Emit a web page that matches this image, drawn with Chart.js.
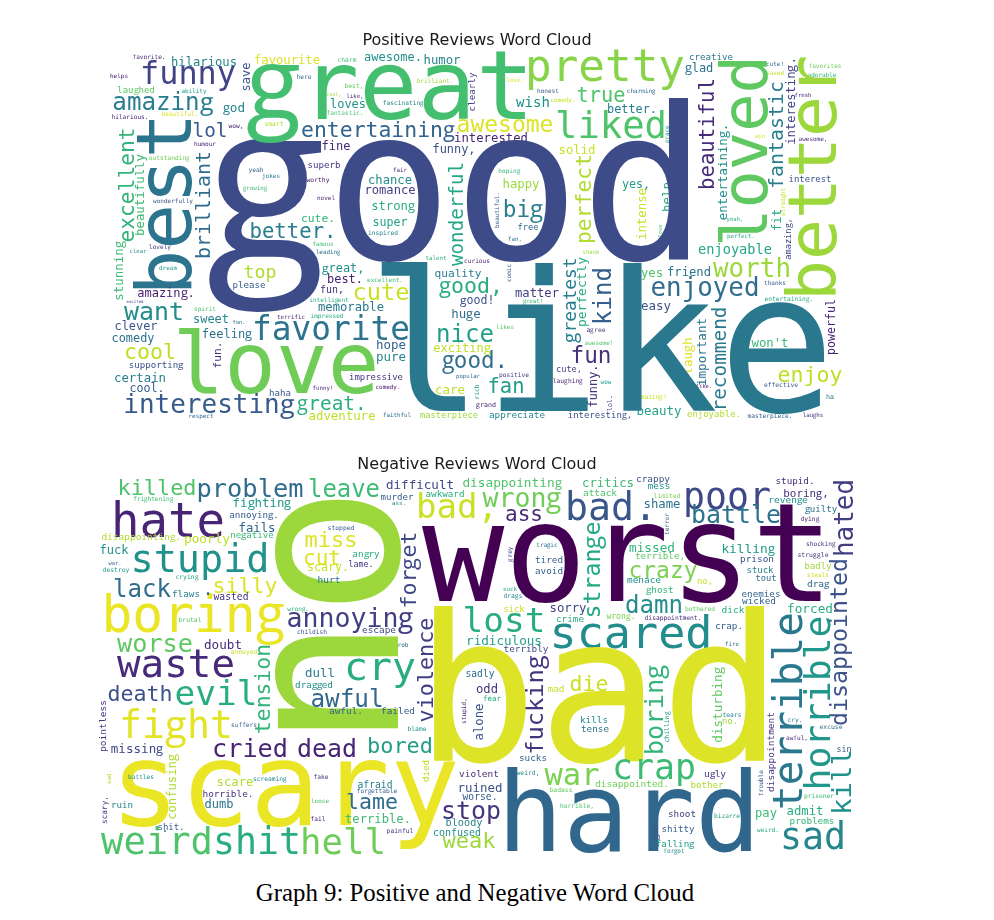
<!DOCTYPE html>
<html><head><meta charset="utf-8">
<style>
@font-face{font-family:"CloudG";src:local("Open Sans Regular"),local("Open Sans"),local("OpenSans-Regular");unicode-range:U+67;size-adjust:104%}
html,body{margin:0;padding:0;background:#fff;width:994px;height:920px;overflow:hidden}
canvas{position:absolute;left:0;background:#fff}
#c1{top:0}
#c2{top:440px}
#cap{position:absolute;left:0;width:950px;top:879px;text-align:center;font:24.8px "Liberation Serif",serif;color:#000}
</style>
<script src="https://cdn.jsdelivr.net/npm/chart.js@4"></script>
</head><body>
<canvas id="c1" width="952" height="430" style="width:952px;height:430px"></canvas>
<canvas id="c2" width="950" height="430" style="width:950px;height:430px"></canvas>
<div id="cap">Graph 9: Positive and Negative Word Cloud</div>
<script>
const posTitle = "Positive Reviews Word Cloud";
const negTitle = "Negative Reviews Word Cloud";
const posWords = [
"favorite.","hilarious","favourite","charm","awesome.","humor","funny","helps",
"save","hero","brilliant.","clearly","laughed","ability","best,","cool,",
"like,","amazing","god","loves","fascinating","hilarious.","beautiful,","fantastic.",
"lol","smart","wow,","entertaining","best","excellent","beautifully","brilliant",
"outstanding","humour","fine","funny,","interested","awesome","superb","yeah",
"fair","jokes","worthy","chance","growing","romance","wonderfully","novel",
"strong","cute.","super","wonderful","creative","cute!","favorites","adorable",
"saved","glad","love,","honest","charming","comedy.","fresh","true",
"wish","better.","liked","solid","grace","win","awesome,","hoping",
"happy","big","beautiful.","perfect","intense","yes,","help","beautiful",
"entertaining.","loved","fantastic","interesting.","better","interest","straight","yeah,",
"fit","amazing,","better.","top","inspired","famous","leading","lovely",
"clear","dream","talent","curious","great,","quality","best.","excellent.",
"fun,","please","amazing.","cute","good,","stunning","excited","want",
"intelligent","memorable","spirit","terrific","impressed","sweet","clever","fan.",
"favorite","feeling","comedy","good!","huge","nice","exciting","fun.",
"hope","pure","cool","love","good.","supporting","certain","impressive",
"popular","cool.","funny!","comedy.","care","haha","interesting","great.",
"rich","adventure","respect","faithful","masterpiece","grand","free","fan,",
"love","perfect.","thank","enjoyable","worth","yes","friend","thanks",
"comic","greatest","perfectly","kind","enjoyed","matter","easy","entertaining.",
"great!","powerful","recommend","likes","agree","fun","important","laugh",
"awesome!","won't","funny.","cute,","positive","enjoy","laughing","wow",
"fan","effective","like.","amazing!","ha","lol.","beauty","appreciate",
"interesting,","enjoyable.","masterpiece.","laughs","good","like","great","pretty",
"."];
const posX = [
149,204,287,347,393,442,188,119,
250,304,435,475,136,194,354,334,
355,163,234,348,403,130,180,345,
210,274,236,378,191,134,144,210,
169,205,336,454,491,505,324,256,
400,271,318,390,255,390,173,326,
393,318,390,463,711,775,825,822,
775,699,515,548,641,563,803,601,
533,632,611,577,669,760,813,509,
521,523,499,591,646,636,671,714,
727,767,783,795,836,810,785,735,
781,791,293,260,383,323,328,160,
138,168,436,477,343,458,345,385,
332,249,166,381,471,123,135,154,
329,351,205,291,327,211,136,239,
331,227,133,477,466,465,462,221,
391,391,150,276,475,156,140,376,
468,147,323,388,450,280,209,332,
479,342,201,397,449,486,528,515,
662,741,591,735,752,652,689,775,
511,576,586,611,705,537,656,789,
533,835,726,505,596,591,706,692,
599,770,597,569,514,810,568,606,
506,781,704,652,830,612,659,517,
600,714,770,813,457,601,390,605,
178];
const posY = [
59,66,64,62,61,64,84,78,
77,79,83,92,93,93,88,96,
98,110,112,108,105,119,116,115,
137,126,128,137,204,185,195,205,
160,146,150,153,142,132,168,172,
172,178,182,184,190,194,203,200,
210,222,226,214,60,66,68,77,
75,72,82,93,93,102,97,102,
107,113,138,154,134,138,141,173,
188,217,210,199,214,188,197,134,
172,151,135,101,178,182,202,221,
220,239,238,278,235,246,254,249,
253,270,260,263,272,277,283,282,
293,288,297,300,293,271,303,320,
302,311,311,319,318,323,330,324,
340,338,342,304,318,342,352,355,
349,361,359,393,368,368,382,380,
378,392,390,389,394,396,413,410,
392,420,418,417,418,407,230,241,
231,238,254,254,277,277,276,285,
273,300,292,296,296,297,310,301,
303,327,359,329,332,363,352,356,
345,347,386,372,377,382,383,384,
393,387,388,399,399,403,415,418,
418,417,418,417,259,411,119,81,
93];
const posLen = [
33,66,66,19,58,37,96,18,
29,15,37,39,38,25,19,15,
17,102,23,36,41,37,37,37,
35,19,15,155,183,115,82,108,
41,22,29,43,74,97,33,15,
14,18,23,44,25,51,40,18,
44,34,35,104,44,18,33,29,
18,29,17,22,29,25,17,49,
34,50,112,37,18,10,29,22,
37,41,36,90,52,28,30,112,
97,192,108,88,246,43,29,17,
22,42,87,33,30,21,25,22,
17,18,21,26,43,47,36,36,
24,33,58,57,65,60,17,60,
40,66,22,28,33,36,43,13,
158,51,43,35,30,58,58,27,
30,30,52,207,68,55,52,54,
24,35,21,25,30,22,172,70,
15,67,25,28,58,20,21,14,
13,28,17,74,78,22,44,22,
18,86,70,58,109,44,30,49,
21,56,105,18,19,41,68,38,
29,37,43,26,30,65,30,11,
37,34,16,30,8,16,45,56,
65,54,45,21,510,469,292,160,
7];
const posUp = [
0,0,0,0,0,0,0,0,
1,0,0,1,0,0,0,0,
0,0,0,0,0,0,0,0,
0,0,0,0,1,1,1,1,
0,0,0,0,0,0,0,0,
0,0,0,0,0,0,0,0,
0,0,0,1,0,0,0,0,
0,0,0,0,0,0,0,0,
0,0,0,0,1,0,0,0,
0,0,1,1,1,0,1,1,
1,1,1,1,1,0,1,0,
1,1,0,0,0,0,0,0,
0,0,0,0,0,0,0,0,
0,0,0,0,0,1,0,0,
0,0,0,0,0,0,0,0,
0,0,0,0,0,0,0,1,
0,0,0,0,0,0,0,0,
0,0,0,0,0,0,0,0,
1,0,0,0,0,0,0,0,
1,0,0,0,0,0,0,0,
1,1,1,1,0,0,0,0,
0,1,1,0,0,0,1,1,
0,0,1,0,0,0,0,0,
0,0,0,0,0,1,0,0,
0,0,0,0,0,0,0,0,
0];
const posShade = [
10,45,95,70,50,45,20,5,
25,35,85,20,75,55,75,85,
10,42,45,50,45,10,95,70,
28,88,8,32,38,65,68,35,
78,10,12,25,10,95,15,30,
15,40,5,48,68,18,25,8,
62,65,58,60,40,35,78,65,
90,38,95,25,35,92,10,72,
50,42,72,92,55,95,12,65,
85,42,30,88,92,55,58,12,
48,75,42,20,85,25,90,62,
60,20,42,88,45,70,38,18,
50,55,65,8,50,42,10,68,
15,28,8,92,62,68,22,48,
62,40,72,8,62,45,25,35,
38,38,38,25,35,55,90,15,
30,45,90,78,35,25,42,15,
35,28,12,5,90,28,28,62,
55,90,35,38,85,10,35,40,
70,60,85,60,85,72,38,25,
25,42,62,30,35,18,25,60,
68,10,40,75,15,14,38,95,
72,68,15,18,18,90,8,55,
55,28,8,92,40,20,58,45,
25,88,32,15,23,40,70,82,
35];

const negWords = [
"killed","problem","leave","difficult","disappointing","frightening","murder","awkward",
"ass.","hate","fighting","bad,","annoying.","no","fails","stopped",
"negative","disappointing.","poorly","miss","fuck","stupid","cut","angry",
"lame.","scary.","war.","destroy","crying","forget","silly","lack",
"hurt","flaws","wasted","boring","annoying","wrong.","brutal","childish",
"escape","rob","worse","doubt","annoyed","waste","tension","violence",
"lost","ridiculous","wrong","critics","crappy","mess","poor","stupid.",
"hated","attack","limited","boring,","revenge","bad.","shame","guilty",
"ass","battle","dying","terror","worst","strange","tragic","grey",
"missed","killing","shocking","terrible,","struggle","tired","prison","crazy",
"avoid","stuck","badly","steals","tout","no,","menace","drag",
"suck","drags","ghost","enemies","wicked","disappointed","damn","sorry",
"sick","bothered","dick","forced","crime","wrong.","disappointment.","crap.",
"scared","fire","terribly","terrible","horrible","kill","sin","die",
"mad","fucking","boring","disturbing","chilling","kills","tense","no.",
"tears","cry.","excuse","awful,","disappointment","trouble","bad","sucks",
"sadly","odd","fear","alone","stupid,","dull","cry","dragged",
"awful","death","evil","awful.","failed","suffers","blame","fight",
"pointless","cried","dead","bored","missing","confusing","died","scary",
"sad.","battles","scare","screaming","fake","afraid","forgettable","horrible.",
"lame","dumb","ruin","scary,","loose","fail","terrible.","shit.",
"painful","stop","violent","ruined","worse.","bloody","confused","weak",
"weird","shit","hell","hard","war","crap","weird,","disappointed.",
"ugly","bother","badass","prisoner","horrible,","pay","admit","problems",
"shoot","bizarre","shitty","gun","weird.","falling","forgot","sad",
".","."];
const negX = [
157,250,344,420,512,153,397,445,
399,168,262,457,254,398,257,341,
252,141,207,331,114,200,322,366,
361,328,115,116,187,416,245,142,
329,186,231,193,350,298,190,312,
379,403,155,223,244,176,270,433,
504,504,522,608,653,659,727,795,
853,600,667,806,788,611,662,821,
524,736,810,669,628,600,547,512,
652,748,821,660,813,549,757,663,
549,760,818,818,766,705,644,818,
510,513,660,761,759,847,654,568,
514,700,733,810,570,621,673,729,
631,732,526,802,830,851,844,589,
556,543,663,722,669,594,595,730,
732,795,831,797,774,763,599,533,
480,487,492,483,466,320,380,314,
347,140,216,346,398,244,417,176,
106,250,327,400,137,176,429,285,
111,141,235,270,321,375,377,228,
372,219,122,107,320,318,378,171,
400,471,479,480,480,464,457,469,
157,257,343,629,572,654,528,632,
715,707,561,819,577,766,805,812,
682,727,678,658,768,675,674,813,
208,165];
const negY = [
495,497,497,489,487,501,500,497,
505,537,507,518,518,617,532,530,
538,540,543,547,554,572,565,557,
567,571,565,572,579,570,593,597,
583,597,600,632,627,611,622,634,
633,647,652,649,654,677,689,670,
632,645,507,487,482,489,509,484,
518,496,498,497,503,520,508,512,
521,523,521,524,601,570,547,554,
552,553,546,559,557,563,562,578,
574,573,569,577,581,584,583,587,
591,598,593,597,604,642,613,612,
612,611,613,613,622,619,620,629,
648,646,652,711,703,782,752,691,
692,705,710,705,727,723,732,724,
717,722,729,740,752,783,761,761,
677,693,701,722,711,677,680,688,
707,701,705,714,714,727,731,738,
726,757,757,753,753,787,771,825,
777,779,786,781,779,788,793,797,
809,808,808,810,803,821,823,830,
833,819,777,792,800,826,836,848,
854,854,854,851,785,779,775,787,
777,788,792,798,808,817,815,824,
817,818,832,832,832,847,853,849,
595,832];
const negLen = [
79,107,72,68,100,41,33,39,
14,114,60,82,50,264,37,27,
44,80,46,53,29,139,38,28,
25,42,13,27,23,78,65,58,
23,28,35,185,128,22,23,30,
34,11,76,38,27,118,90,105,
83,76,80,52,34,23,88,39,
78,34,27,46,40,92,37,33,
38,90,19,22,412,98,22,15,
46,54,30,50,31,28,34,69,
28,27,27,22,21,16,34,23,
14,19,28,39,34,168,58,37,
21,30,23,46,28,29,57,28,
163,14,45,198,175,66,15,39,
17,100,92,76,31,28,28,16,
19,15,23,22,80,26,368,28,
29,22,18,37,26,30,72,39,
73,65,83,34,34,26,19,115,
52,76,60,66,53,66,22,350,
14,26,37,34,15,35,41,51,
52,29,22,28,18,15,66,27,
27,60,40,45,35,37,48,53,
112,88,86,264,55,84,23,74,
23,33,23,30,34,22,37,45,
28,26,33,17,22,39,22,66,
11,7];
const negUp = [
0,0,0,0,0,0,0,0,
0,0,0,0,0,1,0,0,
0,0,0,0,0,0,0,0,
0,0,0,0,0,1,0,0,
0,0,0,0,0,0,0,0,
0,0,0,0,0,0,1,1,
0,0,0,0,0,0,0,0,
1,0,0,0,0,0,0,0,
0,0,0,1,0,1,0,1,
0,0,0,0,0,0,0,0,
0,0,0,0,0,0,0,0,
0,0,0,0,0,1,0,0,
0,0,0,0,0,0,0,0,
0,0,0,1,1,1,0,0,
0,1,1,1,1,0,0,0,
0,0,0,0,1,1,0,0,
0,0,0,1,1,0,0,0,
0,0,0,0,0,0,0,0,
1,0,0,0,0,1,1,0,
1,0,0,0,0,0,0,0,
0,0,0,1,0,0,0,0,
0,0,0,0,0,0,0,0,
0,0,0,0,0,0,0,0,
0,0,0,0,0,0,0,0,
0,0,0,1,0,0,0,0,
0,0];
const negShade = [
72,35,68,22,72,68,30,62,
45,10,52,92,28,85,32,28,
68,88,90,95,50,50,95,62,
15,92,30,55,58,22,95,35,
38,42,15,97,18,65,72,25,
22,35,75,12,92,12,65,18,
62,55,78,68,25,50,22,12,
18,72,80,14,48,27,38,38,
12,38,8,28,0,60,40,22,
65,55,15,75,15,30,25,80,
30,45,85,92,35,92,50,35,
55,45,65,32,32,25,48,20,
92,75,62,62,62,80,12,28,
48,38,22,40,52,50,28,92,
92,15,65,75,52,48,38,85,
45,45,35,12,15,28,95,32,
35,15,60,25,10,40,62,48,
33,25,62,32,28,30,52,96,
15,10,10,55,22,88,90,97,
88,50,88,45,15,42,30,15,
35,38,45,15,72,8,68,30,
15,15,12,25,30,45,50,85,
72,62,78,33,80,68,45,78,
15,88,75,68,72,68,62,65,
18,55,30,25,62,55,48,45,
35,35];

const viridisStops = ["#440154","#482475","#414487","#355f8d","#2a788e","#21918c","#22a884","#44bf70","#7ad151","#bddf26","#fde725"];
function viridis(p){
  const t = Math.max(0,Math.min(0.9999,p/100))*10, i = Math.floor(t), f = t-i;
  const h = s => [1,3,5].map(k=>parseInt(s.substr(k,2),16));
  const a = h(viridisStops[i]), b = h(viridisStops[i+1]);
  return "rgb("+a.map((v,k)=>Math.round(v+(b[k]-v)*f)).join(",")+")";
}
const ADV = 0.602;
const wordPlugin = {
  id:"wordText",
  afterDatasetsDraw(chart){
    const ds = chart.data.datasets[0], meta = chart.getDatasetMeta(0), ctx = chart.ctx;
    const sx = chart.scales.x, unit = sx.getPixelForValue(sx.min+1)-sx.getPixelForValue(sx.min);
    ctx.save();
    ctx.filter = "blur(0.7px)";
    ctx.textAlign = "center";
    ctx.textBaseline = "alphabetic";
    ds.words.forEach((w,i)=>{
      const pt = meta.data[i];
      const size = ds.lens[i]*unit/(ADV*w.length);
      ctx.font = size+'px "CloudG","DejaVu Sans Mono",monospace';
      ctx.fillStyle = viridis(ds.shades[i]);
      ctx.save();
      ctx.translate(pt.x,pt.y);
      if(ds.ups[i]) ctx.rotate(-Math.PI/2);
      ctx.fillText(w,0,0);
      ctx.restore();
    });
    ctx.restore();
  }
};
function cloud(id,title,words,xs,ys,lens,ups,shades,yMin,yMax,pad,titlePad){
  const canvas = document.getElementById(id);
  new Chart(canvas,{
    type:"scatter",
    plugins:[wordPlugin],
    data:{datasets:[{
      data:words.map((w,i)=>({x:xs[i],y:ys[i]})),
      words,lens,ups,shades,
      pointRadius:0,pointHoverRadius:0,showLine:false
    }]},
    options:{
      responsive:false,animation:false,devicePixelRatio:1,
      layout:{padding:pad},
      events:[],
      plugins:{
        legend:{display:false},tooltip:{enabled:false},
        title:{display:true,text:title,color:"#1a1a1a",
          font:{family:'"DejaVu Sans"',size:16,weight:"normal",lineHeight:1.2},
          padding:titlePad}
      },
      scales:{
        x:{type:"linear",display:false,min:90,max:864},
        y:{type:"linear",display:false,min:yMin,max:yMax,reverse:true}
      }
    }
  });
}
function drawAll(){
  cloud("c1",posTitle,posWords,posX,posY,posLen,posUp,posShade,52,425,
    {left:90,right:88,top:31.4,bottom:5},{top:0,bottom:1.4});
  cloud("c2",negTitle,negWords,negX,negY,negLen,negUp,negShade,478,860,
    {left:90,right:86,top:15.4,bottom:10},{top:0,bottom:3.4});
}
document.fonts.load('40px "CloudG"','g').then(drawAll,drawAll);
</script>
</body></html>
